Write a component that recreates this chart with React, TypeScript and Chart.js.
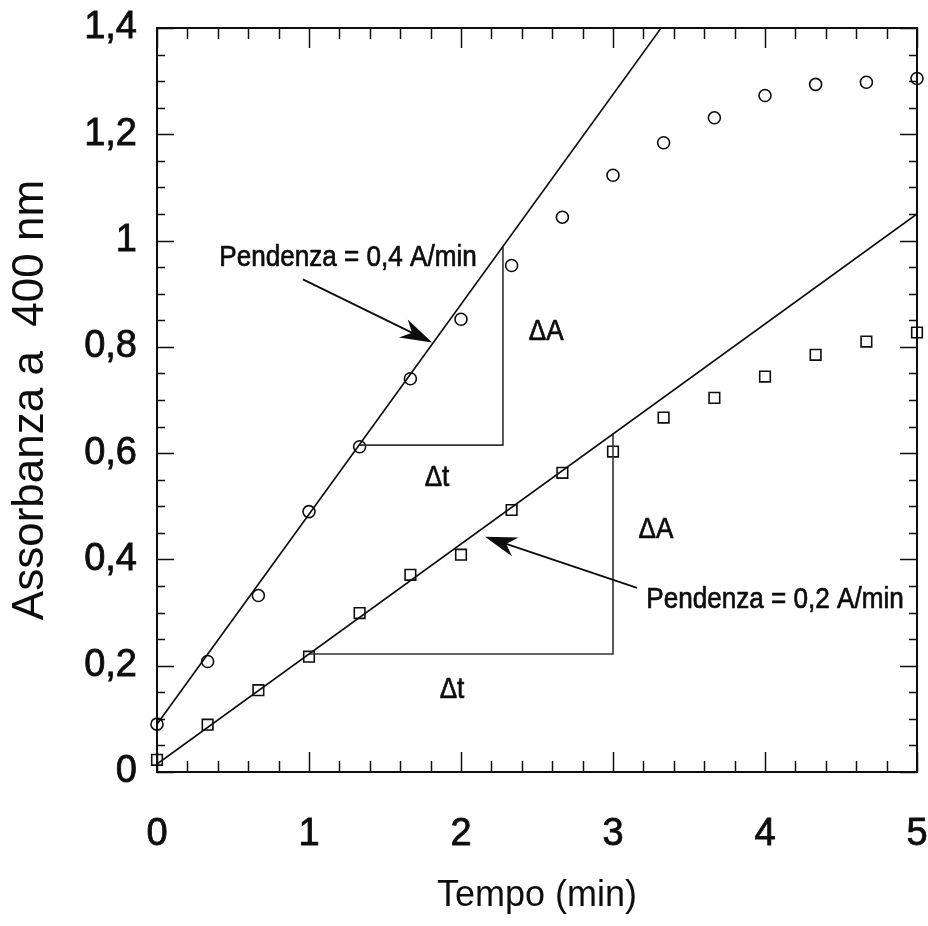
import React, { useEffect, useRef } from 'react';
import { Chart, registerables } from 'chart.js';

Chart.register(...registerables);

// ---- data ----
const timeMin = [0, 0.333, 0.667, 1, 1.333, 1.667, 2, 2.333, 2.667, 3, 3.333, 3.667, 4, 4.333, 4.667, 5];
const absFast = [0.09, 0.208, 0.332, 0.49, 0.612, 0.74, 0.852, 0.953, 1.044, 1.123, 1.184, 1.231, 1.273, 1.294, 1.298, 1.305];
const absSlow = [0.023, 0.089, 0.154, 0.217, 0.299, 0.371, 0.409, 0.493, 0.563, 0.603, 0.667, 0.704, 0.744, 0.785, 0.81, 0.827];

const fastFitX = [0, 3.5];
const fastFitY = [0.09, 1.4725];
const slowFitX = [0, 5];
const slowFitY = [0.015, 1.05];

const fastTriX = [1.333, 2.276, 2.276];
const fastTriY = [0.615, 0.615, 0.989];
const slowTriX = [1, 3, 3];
const slowTriY = [0.222, 0.222, 0.636];

const xTickLabels = ['0', '1', '2', '3', '4', '5'];
const yTickLabels = ['0', '0,2', '0,4', '0,6', '0,8', '1', '1,2', '1,4'];
const xRange = [0, 5];
const yRange = [0, 1.4];
const xMajorStep = 1;
const yMajorStep = 0.2;
const xMinorStep = 0.2;
const yMinorStep = 0.05;

const xTitle = 'Tempo (min)';
const yTitle = 'Assorbanza a  400 nm';

const noteTexts = ['Pendenza = 0,4 A/min', 'ΔA', 'Δt', 'ΔA', 'Δt', 'Pendenza = 0,2 A/min'];
const noteX = [1.257, 2.56, 1.842, 3.283, 1.941, 4.066];
const noteY = [0.968, 0.829, 0.554, 0.456, 0.154, 0.324];

const arrowFromX = [0.96, 3.158];
const arrowFromY = [0.927, 0.3465];
const arrowToX = [1.81, 2.158];
const arrowToY = [0.808, 0.4426];

const INK = '#0d0d0d';
const SANS = '"Liberation Sans", Arial, Helvetica, sans-serif';

const pts = (xs: number[], ys: number[]) => xs.map((x, i) => ({ x, y: ys[i] }));

const decorPlugin = {
  id: 'decor',
  afterDatasetsDraw(chart: any) {
    const { ctx, chartArea: a, scales } = chart;
    const x = scales.x;
    const y = scales.y;
    ctx.save();
    ctx.strokeStyle = INK;
    // top & right frame
    ctx.lineWidth = 2;
    ctx.beginPath();
    ctx.moveTo(a.left, a.top);
    ctx.lineTo(a.right, a.top);
    ctx.lineTo(a.right, a.bottom);
    ctx.stroke();

    // inward ticks, all four sides
    ctx.lineWidth = 1.5;
    const nx = Math.round((xRange[1] - xRange[0]) / xMinorStep);
    for (let i = 0; i <= nx; i++) {
      const v = xRange[0] + i * xMinorStep;
      const major = Math.abs(v / xMajorStep - Math.round(v / xMajorStep)) < 1e-6;
      const len = major ? 20 : 11;
      const px = Math.round(x.getPixelForValue(v)) + 0.5;
      ctx.beginPath();
      ctx.moveTo(px, a.bottom);
      ctx.lineTo(px, a.bottom - len);
      ctx.moveTo(px, a.top);
      ctx.lineTo(px, a.top + len);
      ctx.stroke();
    }
    const ny = Math.round((yRange[1] - yRange[0]) / yMinorStep);
    for (let i = 0; i <= ny; i++) {
      const v = yRange[0] + i * yMinorStep;
      const major = Math.abs(v / yMajorStep - Math.round(v / yMajorStep)) < 1e-6;
      const len = major ? 17 : 8;
      const py = Math.round(y.getPixelForValue(v)) + 0.5;
      ctx.beginPath();
      ctx.moveTo(a.left, py);
      ctx.lineTo(a.left + len, py);
      ctx.moveTo(a.right, py);
      ctx.lineTo(a.right - len, py);
      ctx.stroke();
    }

    // arrows
    for (let i = 0; i < arrowFromX.length; i++) {
      const x0 = x.getPixelForValue(arrowFromX[i]);
      const y0 = y.getPixelForValue(arrowFromY[i]);
      const x1 = x.getPixelForValue(arrowToX[i]);
      const y1 = y.getPixelForValue(arrowToY[i]);
      const dx = x1 - x0;
      const dy = y1 - y0;
      const d = Math.hypot(dx, dy);
      const ux = dx / d;
      const uy = dy / d;
      const L = 32;
      const W = 10;
      ctx.lineWidth = 1.8;
      ctx.beginPath();
      ctx.moveTo(x0, y0);
      ctx.lineTo(x1 - ux * L * 0.6, y1 - uy * L * 0.6);
      ctx.stroke();
      ctx.fillStyle = INK;
      ctx.beginPath();
      ctx.moveTo(x1, y1);
      ctx.lineTo(x1 - ux * L - uy * W, y1 - uy * L + ux * W);
      ctx.lineTo(x1 - ux * L * 0.7, y1 - uy * L * 0.7);
      ctx.lineTo(x1 - ux * L + uy * W, y1 - uy * L - ux * W);
      ctx.closePath();
      ctx.fill();
    }

    // annotation texts (slightly condensed, like the reference lettering)
    ctx.fillStyle = INK;
    ctx.strokeStyle = INK;
    ctx.lineWidth = 0.7;
    ctx.textAlign = 'center';
    ctx.textBaseline = 'middle';
    ctx.font = '30px ' + SANS;
    for (let i = 0; i < noteTexts.length; i++) {
      ctx.save();
      ctx.translate(x.getPixelForValue(noteX[i]), y.getPixelForValue(noteY[i]));
      ctx.scale(0.87, 1);
      ctx.fillText(noteTexts[i], 0, 0);
      ctx.strokeText(noteTexts[i], 0, 0);
      ctx.restore();
    }
    ctx.restore();
  },
};

export default function App() {
  const ref = useRef<HTMLCanvasElement | null>(null);

  useEffect(() => {
    if (!ref.current) return;
    const chart = new Chart(ref.current, {
      type: 'scatter',
      data: {
        datasets: [
          {
            label: 'fit 0,4',
            data: pts(fastFitX, fastFitY),
            showLine: true,
            borderColor: INK,
            borderWidth: 1.6,
            pointRadius: 0,
          },
          {
            label: 'fit 0,2',
            data: pts(slowFitX, slowFitY),
            showLine: true,
            borderColor: INK,
            borderWidth: 1.6,
            pointRadius: 0,
          },
          {
            label: 'triangolo 1',
            data: pts(fastTriX, fastTriY),
            showLine: true,
            borderColor: '#333',
            borderWidth: 1.6,
            pointRadius: 0,
          },
          {
            label: 'triangolo 2',
            data: pts(slowTriX, slowTriY),
            showLine: true,
            borderColor: '#333',
            borderWidth: 1.6,
            pointRadius: 0,
          },
          {
            label: 'cerchi',
            data: pts(timeMin, absFast),
            pointStyle: 'circle',
            pointRadius: 6,
            pointBorderWidth: 1.6,
            pointBorderColor: INK,
            pointBackgroundColor: 'rgba(255,255,255,0)',
            clip: false as any,
          },
          {
            label: 'quadrati',
            data: pts(timeMin, absSlow),
            pointStyle: 'rect',
            pointRadius: 7.5,
            pointBorderWidth: 1.6,
            pointBorderColor: INK,
            pointBackgroundColor: 'rgba(255,255,255,0)',
            clip: false as any,
          },
        ],
      },
      options: {
        responsive: false,
        animation: false,
        events: [],
        layout: { padding: { top: 28, right: 11, left: 0, bottom: 0 } },
        plugins: { legend: { display: false }, tooltip: { enabled: false } },
        scales: {
          x: {
            type: 'linear',
            min: xRange[0],
            max: xRange[1],
            afterFit: (s: any) => {
              s.height = 154;
              s.paddingLeft = 0;
              s.paddingRight = 0;
            },
            ticks: {
              stepSize: xMajorStep,
              padding: 40,
              color: INK,
              textStrokeColor: INK,
              textStrokeWidth: 0.8,
              font: { family: SANS, size: 38 },
              callback: (_v: any, i: number) => xTickLabels[i],
            },
            grid: { drawOnChartArea: false, drawTicks: false },
            border: { display: true, width: 2, color: INK },
            title: {
              display: true,
              text: xTitle,
              color: INK,
              font: { family: SANS, size: 36 },
              padding: { top: 0, bottom: 8 },
            },
          },
          y: {
            type: 'linear',
            min: yRange[0],
            max: yRange[1],
            afterFit: (s: any) => {
              s.width = 157;
              s.paddingTop = 0;
              s.paddingBottom = 0;
            },
            ticks: {
              stepSize: yMajorStep,
              padding: 20,
              color: INK,
              textStrokeColor: INK,
              textStrokeWidth: 0.8,
              font: { family: SANS, size: 38 },
              callback: (_v: any, i: number) => yTickLabels[i],
            },
            grid: { drawOnChartArea: false, drawTicks: false },
            border: { display: true, width: 2, color: INK },
            title: {
              display: true,
              text: yTitle,
              color: INK,
              font: { family: SANS, size: 44 },
              padding: { top: 4, bottom: 0 },
            },
          },
        },
      },
      plugins: [decorPlugin],
    });
    return () => chart.destroy();
  }, []);

  return (
    <div style={{ position: 'absolute', left: 0, top: 0, width: 928, height: 926, background: '#fff' }}>
      <canvas ref={ref} width={928} height={926} style={{ display: 'block', width: 928, height: 926 }} />
    </div>
  );
}
